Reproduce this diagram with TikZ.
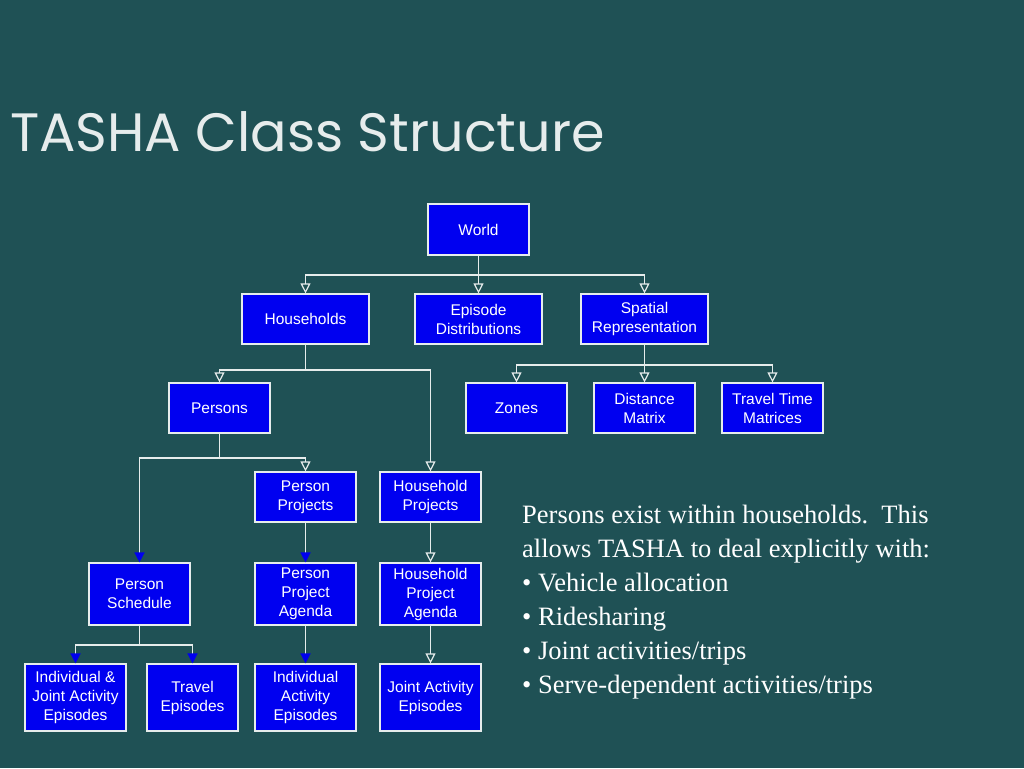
\documentclass[tikz,border=0pt]{standalone}
\usepackage{fontspec}
\setmainfont{Liberation Sans}
\newfontfamily\titlefont{Poppins}
\newfontfamily\seriffont{Liberation Serif}
\usetikzlibrary{arrows.meta}
\definecolor{bg}{HTML}{1F5155}
\definecolor{boxblue}{HTML}{0000F0}
\definecolor{ln}{HTML}{E6ECEC}
\tikzset{
 bx/.style={draw=ln,line width=1.2pt,fill=boxblue,text=white,font=\fontsize{15.5}{19}\selectfont,align=center,inner sep=0pt},
 conn/.style={draw=ln,line width=1.5pt},
 oa/.style={conn,-{Triangle[open,fill=bg,length=10pt,width=10pt,line width=1.2pt]}},
 ba/.style={conn,-{Triangle[fill=boxblue,color=boxblue,length=10pt,width=10pt]}},
}
\newcommand{\bxn}[6]{\node[bx,minimum width=#3-#2,minimum height=#5-#4] (#1) at ({(#2+#3)/2},{(#4+#5)/2}) {#6};}
\begin{document}
\begin{tikzpicture}[x=1pt,y=-1pt]
\fill[bg] (0,0) rectangle (1024,768);
\useasboundingbox (0,0) rectangle (1024,768);
\node[anchor=west,text=ln,font=\titlefont\fontsize{54}{56}\selectfont,inner sep=0pt] (title) at (10,132) {TASHA Class Structure};
\bxn{world}{428}{529}{204}{255}{World}
\bxn{hh}{242}{369}{294}{344}{Households}
\bxn{ed}{415}{542}{294}{344}{Episode\\Distributions}
\bxn{sr}{581}{708}{294}{344}{Spatial\\Representation}
\bxn{pers}{169}{270}{383}{433}{Persons}
\bxn{zones}{466}{567}{383}{433}{Zones}
\bxn{dm}{594}{695}{383}{433}{Distance\\Matrix}
\bxn{ttm}{722}{823}{383}{433}{Travel Time\\Matrices}
\bxn{pp}{255}{356}{472}{522}{Person\\Projects}
\bxn{hp}{380}{481}{472}{522}{Household\\Projects}
\bxn{ps}{89}{190}{563}{625}{Person\\Schedule}
\bxn{ppa}{255}{356}{563}{625}{Person\\Project\\Agenda}
\bxn{hpa}{380}{481}{563}{625}{Household\\Project\\Agenda}
\bxn{ije}{25}{126}{664}{731}{Individual \&\\Joint Activity\\Episodes}
\bxn{te}{147}{238}{664}{731}{Travel\\Episodes}
\bxn{iae}{255}{356}{664}{731}{Individual\\Activity\\Episodes}
\bxn{jae}{380}{481}{664}{731}{Joint Activity\\Episodes}
\coordinate (j1) at (478.5,275);
\coordinate (j2) at (305.5,370);
\coordinate (j3) at (219.5,458);
\coordinate (j4) at (644.5,365);
\coordinate (j5) at (139.5,645);
\draw[conn] (world.south) -- (j1);
\draw[oa] (j1) -| (hh.north);
\draw[oa] (j1) -- (ed.north);
\draw[oa] (j1) -| (sr.north);
\draw[conn] (hh.south) -- (j2);
\draw[oa] (j2) -| (pers.north);
\draw[oa] (j2) -| (hp.north);
\draw[conn] (pers.south) -- (j3);
\draw[ba] (j3) -| (ps.north);
\draw[oa] (j3) -| (pp.north);
\draw[conn] (sr.south) -- (j4);
\draw[oa] (j4) -| (zones.north);
\draw[oa] (j4) -- (dm.north);
\draw[oa] (j4) -| (ttm.north);
\draw[ba] (pp) -- (ppa);
\draw[oa] (hp) -- (hpa);
\draw[ba] (ppa) -- (iae);
\draw[oa] (hpa) -- (jae);
\draw[conn] (ps.south) -- (j5);
\draw[ba] (j5) -| (ije.north);
\draw[ba] (j5) -| (te.north);
\node[anchor=north west,text=white,align=left,font=\seriffont\fontsize{26.5}{34}\selectfont,inner sep=0pt] (txt) at (522,505)
{Persons exist within households.\ \ This\\allows TASHA to deal explicitly with:\\\textbullet\ Vehicle allocation\\\textbullet\ Ridesharing\\\textbullet\ Joint activities/trips\\\textbullet\ Serve-dependent activities/trips};
\end{tikzpicture}
\end{document}
